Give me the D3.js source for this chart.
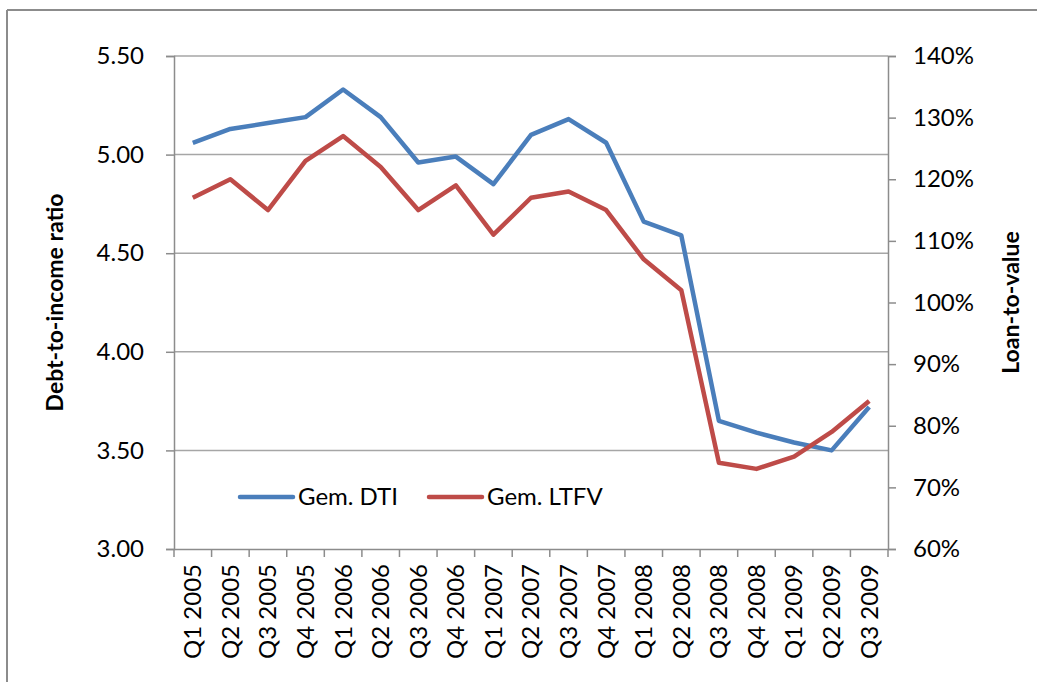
<!DOCTYPE html>
<html>
<head>
<meta charset="utf-8">
<script src="https://cdn.jsdelivr.net/npm/d3@7"></script>
<style>
  body { margin: 0; background: #fff; }
  text { font-family: Lato, "Open Sans", sans-serif; fill: #000; }
</style>
</head>
<body>
<div id="chart"></div>
<script>
// Data
const quarters = ["Q1 2005", "Q2 2005", "Q3 2005", "Q4 2005", "Q1 2006", "Q2 2006", "Q3 2006", "Q4 2006",
                  "Q1 2007", "Q2 2007", "Q3 2007", "Q4 2007", "Q1 2008", "Q2 2008", "Q3 2008", "Q4 2008",
                  "Q1 2009", "Q2 2009", "Q3 2009"];
const dti = [5.06, 5.13, 5.16, 5.19, 5.33, 5.19, 4.96, 4.99, 4.85, 5.10, 5.18, 5.06, 4.66, 4.59, 3.65, 3.59, 3.54, 3.50, 3.72];
const ltfv = [117, 120, 115, 123, 127, 122, 115, 119, 111, 117, 118, 115, 107, 102, 74, 73, 75, 79, 84];
const leftTicks = [3.0, 3.5, 4.0, 4.5, 5.0, 5.5];
const rightTicks = [60, 70, 80, 90, 100, 110, 120, 130, 140];

const width = 1037;
const height = 682;
const margin = { top: 56, right: 149, bottom: 133, left: 174 };
const blue = "#4A7EBB";
const red = "#BE4B48";

const svg = d3.select("#chart")
              .append("svg")
              .attr("width", width)
              .attr("height", height);

// outer frame (top and left edges visible)
svg.append("line").attr("x1", 7).attr("x2", width).attr("y1", 10).attr("y2", 10)
   .attr("stroke", "#8c8c8c").attr("stroke-width", 2);
svg.append("line").attr("x1", 7).attr("x2", 7).attr("y1", 10).attr("y2", height)
   .attr("stroke", "#8c8c8c").attr("stroke-width", 2);

// Scales
const x = d3.scaleBand()
            .domain(quarters)
            .range([margin.left, width - margin.right]);

const yL = d3.scaleLinear()
             .domain([3, 5.5])
             .range([height - margin.bottom, margin.top]);

const yR = d3.scaleLinear()
             .domain([60, 140])
             .range([height - margin.bottom, margin.top]);

// Gridlines
svg.append("g")
   .selectAll("line")
   .data(leftTicks.slice(1))
   .join("line")
   .attr("x1", margin.left)
   .attr("x2", width - margin.right)
   .attr("y1", d => yL(d))
   .attr("y2", d => yL(d))
   .attr("stroke", "#a6a6a6")
   .attr("stroke-width", 1.5);

// Left axis
const gL = svg.append("g")
   .attr("transform", `translate(${margin.left}, 0)`)
   .call(d3.axisLeft(yL).tickValues(leftTicks).tickFormat(d3.format(".2f")).tickSize(8).tickPadding(22));

// Right axis
const gR = svg.append("g")
   .attr("transform", `translate(${width - margin.right}, 0)`)
   .call(d3.axisRight(yR).tickValues(rightTicks).tickFormat(d => d + "%").tickSize(8).tickPadding(17));

// Bottom axis with ticks at category boundaries
const gB = svg.append("g")
   .attr("transform", `translate(0, ${height - margin.bottom})`)
   .call(d3.axisBottom(x).tickSize(0).tickPadding(12));

gB.selectAll(".tick text")
  .attr("transform", "rotate(-90)")
  .attr("x", -15)
  .attr("y", 0)
  .attr("dy", "0.35em")
  .style("text-anchor", "end");

gB.selectAll(".boundary")
  .data(d3.range(quarters.length + 1))
  .join("line")
  .attr("class", "boundary")
  .attr("x1", i => margin.left + i * x.step())
  .attr("x2", i => margin.left + i * x.step())
  .attr("y1", 0)
  .attr("y2", 8)
  .attr("stroke", "#8c8c8c")
  .attr("stroke-width", 1.5);

[gL, gR, gB].forEach(g => {
  g.select(".domain").attr("stroke", "#8c8c8c").attr("stroke-width", 1.5);
  g.selectAll(".tick line").attr("stroke", "#8c8c8c").attr("stroke-width", 1.5);
  g.selectAll(".tick text").attr("font-size", 24).attr("font-family", "Lato, sans-serif").attr("fill", "#000");
});

// Lines
const lineL = d3.line()
                .x((d, i) => x(quarters[i]) + x.bandwidth() / 2)
                .y(d => yL(d));
const lineR = d3.line()
                .x((d, i) => x(quarters[i]) + x.bandwidth() / 2)
                .y(d => yR(d));

svg.append("path")
   .datum(dti)
   .attr("d", lineL)
   .attr("fill", "none")
   .attr("stroke", blue)
   .attr("stroke-width", 4.5)
   .attr("stroke-linejoin", "round");

svg.append("path")
   .datum(ltfv)
   .attr("d", lineR)
   .attr("fill", "none")
   .attr("stroke", red)
   .attr("stroke-width", 4.5)
   .attr("stroke-linejoin", "round");

// Axis titles
svg.append("text")
   .attr("transform", `translate(63, ${(margin.top + height - margin.bottom) / 2}) rotate(-90)`)
   .attr("font-size", 23)
   .attr("font-weight", "bold")
   .style("text-anchor", "middle")
   .text("Debt-to-income ratio");

svg.append("text")
   .attr("transform", `translate(1019, ${(margin.top + height - margin.bottom) / 2}) rotate(-90)`)
   .attr("font-size", 23)
   .attr("font-weight", "bold")
   .style("text-anchor", "middle")
   .text("Loan-to-value");

// Legend
const legend = [
  { name: "Gem. DTI", color: blue, x: 240 },
  { name: "Gem. LTFV", color: red, x: 429 }
];
const lg = svg.append("g").selectAll("g")
   .data(legend)
   .join("g")
   .attr("transform", d => `translate(${d.x}, 497)`);
lg.append("line")
  .attr("x1", 0).attr("x2", 53)
  .attr("stroke", d => d.color)
  .attr("stroke-width", 4.5)
  .attr("stroke-linecap", "round");
lg.append("text")
  .attr("x", 58)
  .attr("dy", "0.35em")
  .attr("font-size", 24)
  .text(d => d.name);
</script>
</body>
</html>
